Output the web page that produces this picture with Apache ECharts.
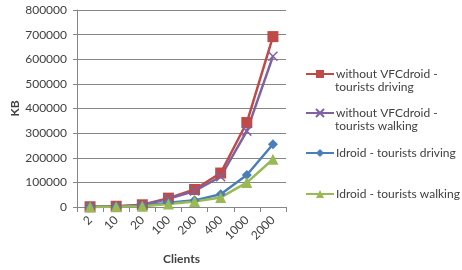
<!DOCTYPE html>
<html>
<head>
<meta charset="utf-8">
<script src="https://cdn.jsdelivr.net/npm/echarts@6/dist/echarts.min.js"></script>
<style>
  html, body { margin: 0; padding: 0; background: #fff; }
  #main { width: 462px; height: 270px; }
</style>
</head>
<body>
<div id="main"></div>
<script>
var clients = ['2', '10', '20', '100', '200', '400', '1000', '2000'];
var withoutDriving = [1000, 3000, 9000, 36000, 71000, 138000, 343000, 692000];
var withoutWalking = [500, 2000, 7000, 33000, 65000, 123000, 308000, 612000];
var idroidDriving = [400, 1500, 5000, 17000, 27000, 52000, 130000, 255000];
var idroidWalking = [200, 1000, 3500, 12000, 22000, 39000, 99000, 194000];
var names = ['without VFCdroid - tourists driving', 'without VFCdroid - tourists walking',
             'Idroid - tourists driving', 'Idroid - tourists walking'];

var font = 'Lato';
var textColor = '#404040';

function lineSeries(name, data, color, symbol, size) {
    return {
        name: name,
        type: 'line',
        data: data,
        symbol: symbol,
        symbolSize: size,
        lineStyle: { color: color, width: 2.5 },
        itemStyle: { color: color, borderColor: color, borderWidth: symbol.indexOf('path') === 0 ? 1.5 : 0 },
        z: 2
    };
}

// one legend per item so the icon sits on the first text line
function legendAt(name, top) {
    return {
        data: [name],
        left: 300,
        top: top,
        itemWidth: 28,
        itemHeight: 10,
        formatter: function (n) {
            return n.indexOf('without') === 0 ? 'without VFCdroid -' : n;
        },
        textStyle: { fontFamily: font, fontSize: 12, color: textColor, padding: [0, 0, 0, -3] }
    };
}

var option = {
    backgroundColor: '#fff',
    animation: false,
    grid: { left: 77, right: 176, top: 10, bottom: 61 },
    legend: [
        legendAt(names[0], 63),
        legendAt(names[1], 102),
        legendAt(names[2], 142),
        legendAt(names[3], 183)
    ],
    graphic: [
        { type: 'text', left: 335, top: 81, style: { text: 'tourists driving', font: '12px Lato', fill: textColor } },
        { type: 'text', left: 335, top: 120, style: { text: 'tourists walking', font: '12px Lato', fill: textColor } }
    ],
    xAxis: {
        type: 'category',
        data: clients,
        boundaryGap: true,
        name: 'Clients',
        nameLocation: 'middle',
        nameGap: 46,
        nameTextStyle: { fontFamily: font, fontSize: 12, fontWeight: 'bold', color: textColor },
        axisLine: { lineStyle: { color: '#868686' } },
        axisTick: { show: true, length: 5, lineStyle: { color: '#868686' } },
        axisLabel: { rotate: 45, fontFamily: font, fontSize: 12, color: textColor, margin: 11 }
    },
    yAxis: {
        type: 'value',
        min: 0,
        max: 800000,
        interval: 100000,
        name: 'KB',
        nameLocation: 'middle',
        nameGap: 42,
        nameTextStyle: { fontFamily: font, fontSize: 12, fontWeight: 'bold', color: textColor },
        axisLine: { show: true, lineStyle: { color: '#868686' } },
        axisTick: { show: true, length: 4, lineStyle: { color: '#868686' } },
        axisLabel: {
            fontFamily: font, fontSize: 12, color: textColor, margin: 10,
            formatter: function (v) { return String(v); }
        },
        splitLine: { lineStyle: { color: '#868686', width: 1 } }
    },
    series: [
        lineSeries(names[0], withoutDriving, '#BE4B48', 'rect', 11),
        lineSeries(names[1], withoutWalking, '#7E62A1', 'path://M0,0L10,10M10,0L0,10', 9),
        lineSeries(names[2], idroidDriving, '#4A7EBB', 'diamond', 10),
        lineSeries(names[3], idroidWalking, '#98B954', 'triangle', 11)
    ]
};

var chart = echarts.init(document.getElementById('main'), null, { renderer: 'canvas' });
chart.setOption(option);
</script>
</body>
</html>
